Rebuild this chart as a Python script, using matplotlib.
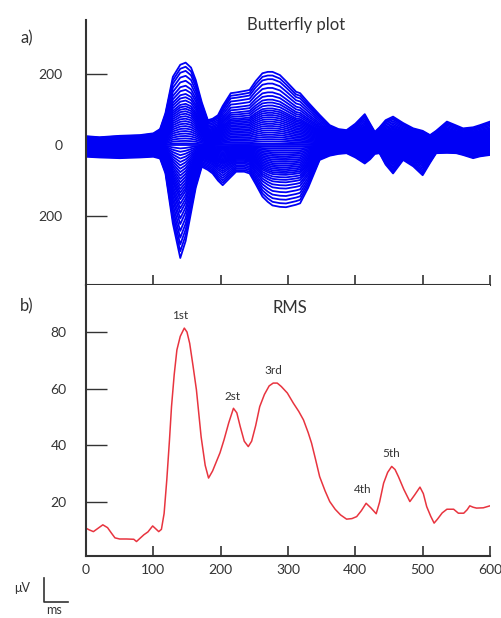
import numpy as np
import matplotlib
matplotlib.use('Agg')
import matplotlib.pyplot as plt
from matplotlib.lines import Line2D

plt.rcParams['font.family'] = ['Lato', 'DejaVu Sans']

# butterfly envelope (uV)
bf_ms = [0, 20, 50, 80, 100, 110, 118, 129, 140, 148, 156, 163, 172, 181, 188, 196,
         203, 215, 223, 235, 243, 252, 262, 270, 277, 288, 297, 312, 318, 330, 347, 362,
         375, 387, 400, 414, 422, 429, 436, 445, 456, 471, 486, 500, 511, 520, 536, 550,
         560, 575, 585, 600]
bf_upper = [25, 22, 26, 28, 33, 45, 90, 192, 226, 232, 218, 183, 120, 70, 74, 84,
            110, 146, 148, 152, 155, 180, 202, 206, 206, 197, 180, 150, 146, 120, 85, 56,
            45, 42, 60, 87, 60, 37, 50, 70, 80, 62, 47, 40, 28, 40, 66, 55,
            47, 50, 56, 66]
bf_lower = [-33, -35, -37, -35, -33, -38, -80, -221, -318, -270, -190, -120, -61, -70, -80, -100,
            -113, -90, -75, -75, -80, -110, -145, -160, -170, -174, -175, -168, -164, -120, -42, -30,
            -25, -23, -35, -52, -40, -25, -23, -55, -80, -42, -60, -85, -50, -23, -22, -23,
            -28, -37, -32, -28]

# channel gains
gains_pos = [1.0, 0.95, 0.9, 0.84, 0.78, 0.72, 0.67, 0.62, 0.58, 0.54, 0.5, 0.47,
             0.44, 0.41, 0.38, 0.35, 0.32, 0.29, 0.26, 0.23, 0.2, 0.17, 0.14, 0.11,
             0.08, 0.05, 0.02, 0.0]
gains_neg = [1.0, 0.94, 0.88, 0.82, 0.76, 0.7, 0.65, 0.6, 0.56, 0.52, 0.48, 0.45,
             0.42, 0.39, 0.36, 0.33, 0.3, 0.27, 0.24, 0.21, 0.18, 0.15, 0.12, 0.09,
             0.06, 0.03]

# RMS curve
rms_ms = [0, 5, 11, 18, 25, 32, 38, 43, 50, 60, 71, 75, 80, 86, 92, 99,
          104, 108, 112, 116, 120, 124, 127, 131, 135, 140, 146, 150, 154, 159, 164, 171,
          177, 182, 188, 194, 199, 205, 212, 219, 224, 229, 235, 241, 246, 252, 258, 265,
          272, 278, 284, 290, 299, 308, 316, 323, 330, 335, 341, 347, 355, 362, 370, 378,
          387, 395, 402, 409, 416, 423, 431, 436, 442, 448, 454, 459, 464, 472, 481, 488,
          496, 501, 506, 512, 517, 522, 529, 536, 546, 553, 561, 566, 570, 575, 580, 590,
          600]
rms_uv = [10.8, 10.2, 9.6, 10.8, 12, 11, 9, 7.4, 7.0, 7.0, 6.9, 6.1, 7.2, 8.5, 9.5, 11.6,
          10.5, 9.6, 10.4, 16, 27.9, 42, 53.7, 65, 73.7, 78.5, 81.4, 80, 76, 68, 59.6, 43,
          33, 28.5, 31, 34.5, 37.4, 42, 48, 53.1, 51.5, 46.7, 41.5, 39.6, 41.5, 47, 53.7, 58,
          61, 62, 62, 60.8, 58.5, 54.9, 52, 49, 44.5, 40.8, 35, 29, 24, 20.2, 17.5, 15.5,
          14, 14.2, 14.9, 17, 19.6, 18, 15.9, 20, 26.7, 30.5, 32.6, 31.5, 29, 24.5, 20.2, 22.5,
          25.3, 23, 18.4, 15, 12.6, 14, 16.2, 17.5, 17.5, 16.1, 16.1, 17.3, 18.7, 18.2, 17.9, 18,
          18.7]

peak_labels = ['1st', '2st', '3rd', '4th', '5th']
peak_ms = [140, 218, 279, 411, 453]
peak_uv = [86, 57.3, 66.4, 24.6, 37]

txt = '#333333'
W, H = 501, 618
fig = plt.figure(figsize=(W / 100, H / 100), dpi=100)
ax1 = fig.add_axes([86 / W, 1 - 285 / H, 404 / W, 265 / H])
ax2 = fig.add_axes([86 / W, 1 - 556 / H, 404 / W, 271 / H])

t = np.array(bf_ms)
up = np.array(bf_upper)
lo = np.array(bf_lower)
for g in gains_pos:
    ax1.plot(t, g * up, color='#0000f5', lw=1.3)
for g in gains_neg:
    ax1.plot(t, g * lo, color='#0000f5', lw=1.3)

ax2.plot(rms_ms, rms_uv, color='#e8343f', lw=1.1)
for lab, x, y in zip(peak_labels, peak_ms, peak_uv):
    ax2.text(x, y, lab, fontsize=8.5, color=txt, ha='center', va='center')

for ax in (ax1, ax2):
    ax.set_xlim(0, 600)
    for s in ('top', 'right'):
        ax.spines[s].set_visible(False)
    for s in ('left', 'bottom'):
        ax.spines[s].set_color('#333333')
        ax.spines[s].set_linewidth(1.5)
    ax.set_xticks([0, 100, 200, 300, 400, 500, 600])
    ax.tick_params(axis='x', direction='in', length=7, width=1.2, color='#333333',
                   labelsize=10, labelcolor=txt, pad=6)
    ax.tick_params(axis='y', direction='in', length=15, width=1.0, color='#333333',
                   labelsize=10, labelcolor=txt)

ax1.set_ylim(-394, 352)
ax1.set_yticks([-200, 0, 200])
ax1.set_yticklabels(['200', '0', '200'])
ax1.tick_params(axis='y', pad=17)
ax1.set_xticklabels([])
ax1.set_title('Butterfly plot', fontsize=12, color=txt, x=0.52, y=1.0, pad=-7)

ax2.set_ylim(1, 96.6)
ax2.set_yticks([20, 40, 60, 80])
ax2.tick_params(axis='y', pad=14)
ax2.text(303, 88.5, 'RMS', fontsize=12, color=txt, ha='center', va='center')

fig.text(27 / W, 1 - 38 / H, 'a)', fontsize=12, color=txt, ha='center', va='center')
fig.text(27 / W, 1 - 306 / H, 'b)', fontsize=12, color=txt, ha='center', va='center')

# scale bar legend
fig.text(22 / W, 1 - 588 / H, 'μV', fontsize=9, color=txt, ha='center', va='center')
fig.text(54 / W, 1 - 610 / H, 'ms', fontsize=9, color=txt, ha='center', va='center')
fig.add_artist(Line2D([44 / W, 44 / W, 68 / W], [1 - 578 / H, 1 - 602 / H, 1 - 602 / H],
                      color='#333333', lw=1.2))

fig.savefig('out.png', dpi=100)
